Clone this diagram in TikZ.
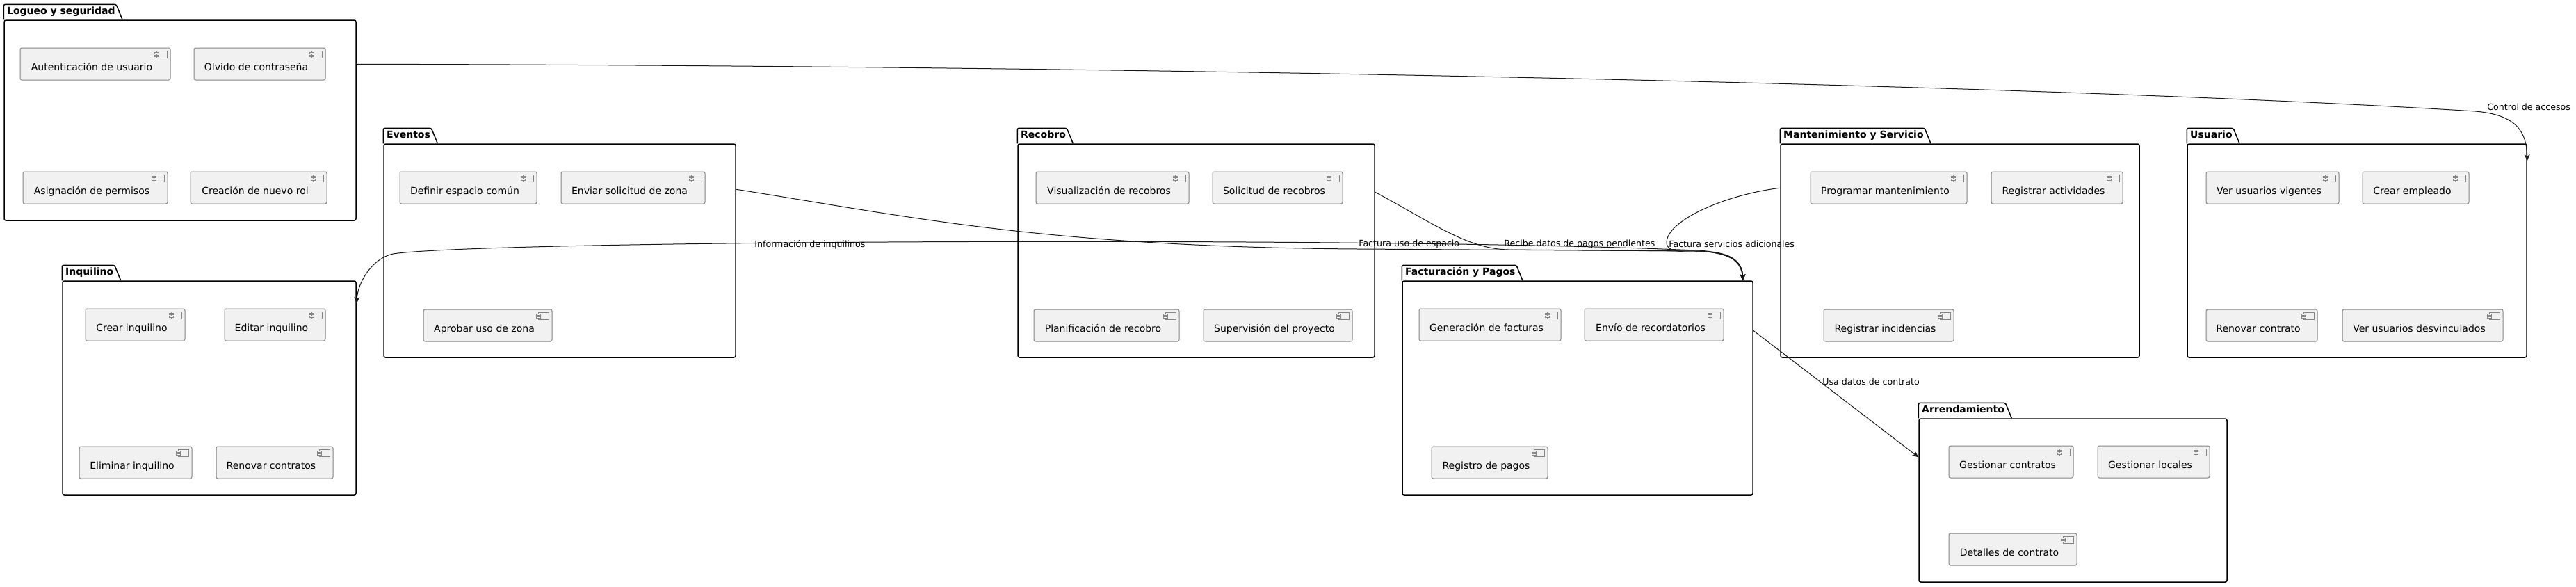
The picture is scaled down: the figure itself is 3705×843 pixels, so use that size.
\documentclass[tikz,border=0pt]{standalone}
\usepackage{fontspec}
\setmainfont{DejaVu Sans}
\usetikzlibrary{arrows.meta}
\definecolor{compfill}{HTML}{F1F1F1}
\definecolor{compline}{HTML}{858585}
\definecolor{edgecol}{HTML}{181818}
\tikzset{
 comp/.style={draw=compline, fill=compfill, line width=0.5pt, rounded corners=1.25pt, inner sep=0pt, text height=9.5pt, text depth=0pt, font=\fontsize{7pt}{8pt}\selectfont},
 icon/.style={draw=compline, line width=0.4pt},
 icontab/.style={draw=compline, fill=compfill, line width=0.4pt},
 pkgbody/.style={draw=black, line width=0.75pt, rounded corners=1.25pt, inner sep=0pt},
 pkgtab/.style={draw=black, line width=0.75pt, rounded corners=1.25pt},
 pkgtitle/.style={inner sep=0pt, font=\fontsize{7pt}{8pt}\selectfont\bfseries},
 edge/.style={draw=edgecol, line width=0.5pt, -{Stealth[length=4.5pt,width=4pt,inset=1.2pt]}},
 lbl/.style={inner sep=0pt, font=\fontsize{6.3pt}{7pt}\selectfont, anchor=base west},
}
\newcommand{\comp}[6]{%
 \node[comp, minimum width={(#4-#2)*0.5pt}, minimum height={(#5-#3)*0.5pt}] (#1) at ({(#2+#4)/2},{(#3+#5)/2}) {#6\kern5pt};
 \draw[icon] ([xshift=-2.5pt,yshift=-2.25pt]#1.north east) rectangle ++(-7.5pt,-5pt);
 \draw[icontab] ([xshift=-8.5pt,yshift=-3.5pt]#1.north east) rectangle ++(-3pt,-1.1pt);
 \draw[icontab] ([xshift=-8.5pt,yshift=-5.5pt]#1.north east) rectangle ++(-3pt,-1.1pt);
}
\newcommand{\pkg}[6]{%
 \node[pkgbody, minimum width={(#4-#2)*0.5pt}, minimum height={(#5-#3)*0.5pt}] (#1) at ({(#2+#4)/2},{(#3+#5)/2}) {};
 \node[pkgtitle, anchor=base west] (#1t) at ([xshift=2.25pt,yshift=3.8pt]#1.north west) {#6};
 \coordinate (#1tl) at ([yshift=11pt]#1.north west);
 \coordinate (#1tr) at (#1tl -| #1t.east);
 \coordinate (#1tb) at (#1tr |- #1.north);
 \draw[pkgtab] (#1.north west) -- (#1tl) -- ([xshift=0.5pt]#1tr) -- ([xshift=5pt]#1tb);
}
\begin{document}
\begin{tikzpicture}[x=0.5pt,y=-0.5pt]
\fill[white] (0,0) rectangle (3705,843);
\useasboundingbox (0,0) rectangle (3705,843);
% packages
\pkg{log}{6}{29}{512}{317}{Logueo y seguridad}
\pkg{inq}{90}{404}{512}{712}{Inquilino}
\pkg{eve}{552}{207}{1058}{514}{Eventos}
\pkg{rec}{1464}{207}{1977}{514}{Recobro}
\pkg{fac}{2017}{404}{2521}{712}{Facturación y Pagos}
\pkg{man}{2561}{207}{3077}{514}{Mantenimiento y Servicio}
\pkg{usu}{3146}{207}{3634}{514}{Usuario}
\pkg{arr}{2760}{602}{3203}{837}{Arrendamiento}
% components
\comp{la1}{29}{69}{245}{115}{Autenticación de usuario}
\comp{la2}{279}{69}{468}{115}{Olvido de contraseña}
\comp{la3}{33}{247}{241}{293}{Asignación de permisos}
\comp{la4}{274}{247}{470}{293}{Creación de nuevo rol}
\comp{i1}{123}{444}{266}{490}{Crear inquilino}
\comp{i2}{323}{444}{468}{490}{Editar inquilino}
\comp{i3}{114}{642}{276}{688}{Eliminar inquilino}
\comp{i4}{311}{642}{479}{688}{Renovar contratos}
\comp{e1}{575}{247}{772}{293}{Definir espacio común}
\comp{e2}{807}{247}{1014}{293}{Enviar solicitud de zona}
\comp{e3}{609}{445}{794}{491}{Aprobar uso de zona}
\comp{r1}{1490}{247}{1710}{293}{Visualización de recobros}
\comp{r2}{1744}{247}{1931}{293}{Solicitud de recobros}
\comp{r3}{1487}{445}{1696}{491}{Planificación de recobro}
\comp{r4}{1731}{445}{1945}{491}{Supervisión del proyecto}
\comp{f1}{2041}{444}{2245}{490}{Generación de facturas}
\comp{f2}{2279}{444}{2479}{490}{Envío de recordatorios}
\comp{f3}{2059}{642}{2226}{688}{Registro de pagos}
\comp{m1}{2604}{247}{2829}{293}{Programar mantenimiento}
\comp{m2}{2864}{247}{3053}{293}{Registrar actividades}
\comp{m3}{2623}{445}{2810}{491}{Registrar incidencias}
\comp{u1}{3173}{247}{3364}{293}{Ver usuarios vigentes}
\comp{u2}{3398}{247}{3551}{293}{Crear empleado}
\comp{u3}{3173}{445}{3333}{491}{Renovar contrato}
\comp{u4}{3369}{445}{3600}{491}{Ver usuarios desvinculados}
\comp{a1}{2803}{641}{2982}{687}{Gestionar contratos}
\comp{a2}{3017}{641}{3178}{687}{Gestionar locales}
\comp{a3}{2803}{767}{2987}{813}{Detalles de contrato}
% connectors
\draw[edge] ([yshift=-32pt]log.north east) .. controls (1800,95) and (3000,125) .. (3560,160) .. controls (3620,165) and (3634,190) .. ([yshift=-12.5pt]usu.north east);
\draw[edge] ([xshift=-7.5pt]fac.north east) .. controls (2506,380) and (2495,362) .. (2440,360) .. controls (2000,340) and (700,345) .. (565,365) .. controls (535,372) and (515,405) .. ([yshift=-16.5pt]inq.north east);
\draw[edge] ([yshift=-33pt]eve.north east) .. controls (1300,310) and (1500,355) .. (1954,358) -- (2440,361) .. controls (2495,363) and (2506,380) .. ([xshift=-7.5pt]fac.north east);
\draw[edge] ([yshift=-35pt]rec.north east) .. controls (2060,320) and (2110,358) .. (2170,359) -- (2440,361) .. controls (2495,363) and (2506,380) .. ([xshift=-7.5pt]fac.north east);
\draw[edge] ([yshift=-32pt]man.north west) .. controls (2480,280) and (2395,318) .. (2397,350) .. controls (2398,362) and (2420,363) .. (2450,362) .. controls (2495,362) and (2506,380) .. ([xshift=-7.5pt]fac.north east);
\draw[edge] ([yshift=-36pt]fac.north east) -- ([yshift=-28pt]arr.north west);
% labels
\node[lbl] (l1) at (1085,355) {Información de inquilinos};
\node[lbl] (l2) at (1954,354) {Factura uso de espacio};
\node[lbl] (l3) at (2163,354) {Recibe datos de pagos pendientes};
\node[lbl] (l4) at (2400,355) {Factura servicios adicionales};
\node[lbl] (l5) at (2621,553) {Usa datos de contrato};
\node[lbl] (l6) at (3577,158) {Control de accesos};
\end{tikzpicture}
\end{document}
